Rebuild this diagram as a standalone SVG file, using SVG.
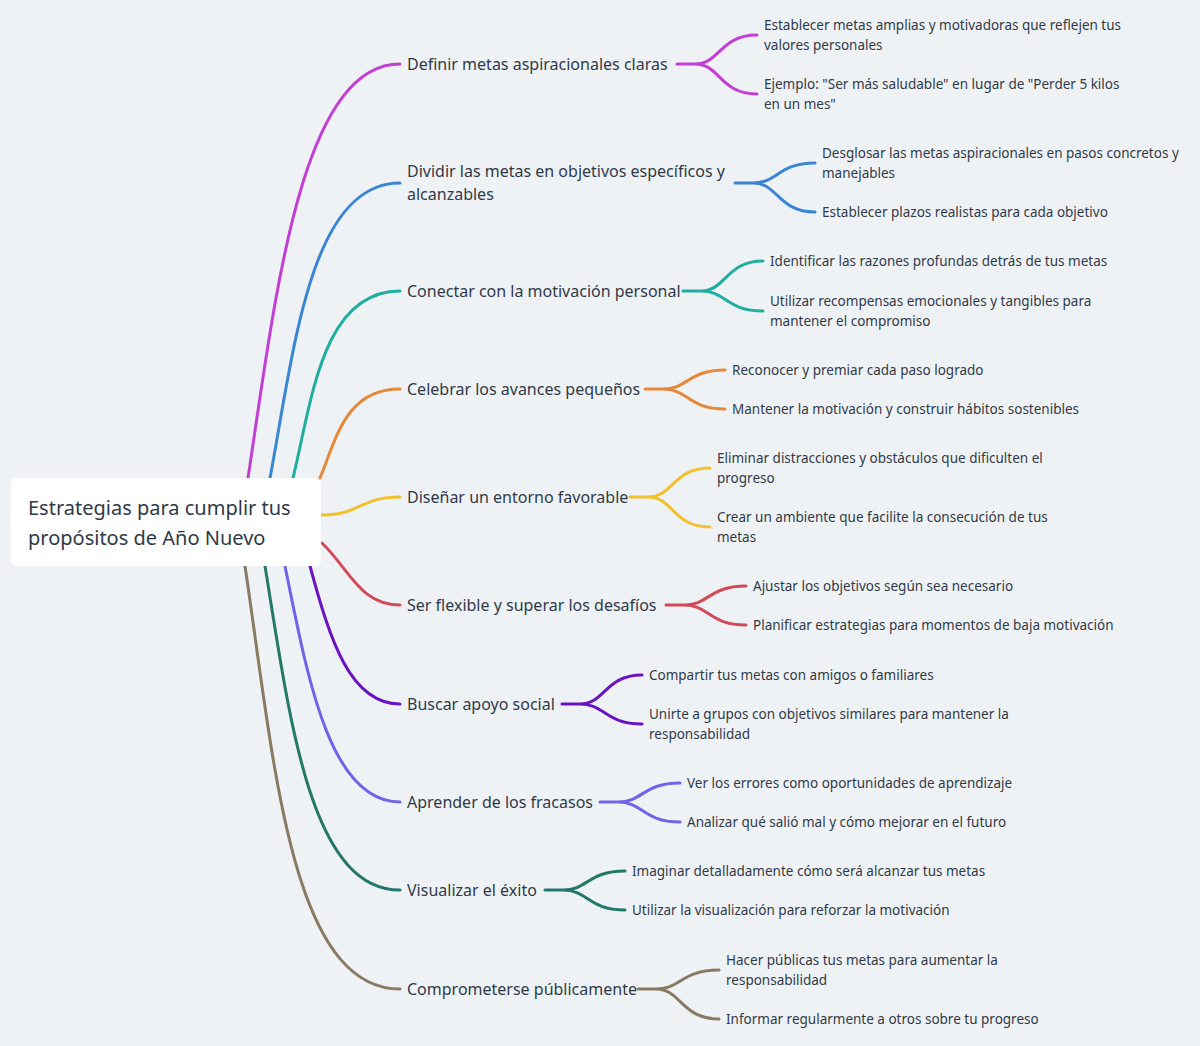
<svg xmlns="http://www.w3.org/2000/svg" width="1200" height="1046" viewBox="0 0 1200 1046">
<style>
text{font-family:"Noto Sans",sans-serif;fill:#2f3a48}
.l1{font-size:16px}.l2{font-size:13.5px}.root{font-size:20px}
path{fill:none;stroke-width:3;stroke-linecap:round}
.p{stroke:#c23fd4}.b{stroke:#3a86d4}.t{stroke:#1fae9f}.o{stroke:#e6883a}.y{stroke:#f2c12e}.r{stroke:#d24a5a}.i{stroke:#6a14c0}.v{stroke:#7063e8}.g{stroke:#24786a}.w{stroke:#8a7a63}
</style>
<rect width="1200" height="1046" fill="#eff2f5"/>
<g id="connectors">
<path class="p" d="M248 478 C275 300 300 64 400 64"/>
<path class="b" d="M270 478 C294 350 310 183 400 183"/>
<path class="t" d="M293 478 C312 400 322 291 400 291"/>
<path class="o" d="M320 478 C336 440 345 389 400 389"/>
<path class="y" d="M322 515 C360 515 360 497 400 497"/>
<path class="r" d="M322 543 C350 570 360 605 400 605"/>
<path class="i" d="M310 566 C330 640 350 704 400 704"/>
<path class="v" d="M285 566 C308 680 330 802 400 802"/>
<path class="g" d="M265 566 C290 720 310 890 400 890"/>
<path class="w" d="M245 566 C274 760 290 989 400 989"/>

<path class="p" d="M677 64 H695 C720 64 720 35 757 35 M695 64 C720 64 720 94 757 94"/>
<path class="b" d="M735 183 H753 C778 183 778 163 815 163 M753 183 C778 183 778 212 815 212"/>
<path class="t" d="M683 291 H701 C726 291 726 261 763 261 M701 291 C726 291 726 311 763 311"/>
<path class="o" d="M645 389 H663 C688 389 688 370 725 370 M663 389 C688 389 688 409 725 409"/>
<path class="y" d="M630 497 H648 C673 497 673 468 710 468 M648 497 C673 497 673 527 710 527"/>
<path class="r" d="M666 605 H684 C709 605 709 586 746 586 M684 605 C709 605 709 625 746 625"/>
<path class="i" d="M562 704 H580 C605 704 605 675 642 675 M580 704 C605 704 605 724 642 724"/>
<path class="v" d="M600 802 H618 C643 802 643 783 680 783 M618 802 C643 802 643 822 680 822"/>
<path class="g" d="M545 890 H563 C588 890 588 871 625 871 M563 890 C588 890 588 910 625 910"/>
<path class="w" d="M638 989 H656 C681 989 681 970 719 970 M656 989 C681 989 681 1019 719 1019"/>
</g>
<g id="root">
<rect x="11" y="478" width="310" height="88" rx="6" fill="#fff"/>
<text class="root" x="28" y="515">Estrategias para cumplir tus</text>
<text class="root" x="28" y="545">propósitos de Año Nuevo</text>
</g>
<g id="n1"><text class="l1" x="407" y="70">Definir metas aspiracionales claras</text>
<text class="l2" x="764" y="30">Establecer metas amplias y motivadoras que reflejen tus</text><text class="l2" x="764" y="50">valores personales</text>
<text class="l2" x="764" y="89">Ejemplo: "Ser más saludable" en lugar de "Perder 5 kilos</text><text class="l2" x="764" y="109">en un mes"</text></g>
<g id="n2"><text class="l1" x="407" y="177">Dividir las metas en objetivos específicos y</text><text class="l1" x="407" y="200">alcanzables</text>
<text class="l2" x="822" y="158">Desglosar las metas aspiracionales en pasos concretos y</text><text class="l2" x="822" y="178">manejables</text>
<text class="l2" x="822" y="217">Establecer plazos realistas para cada objetivo</text></g>
<g id="n3"><text class="l1" x="407" y="297">Conectar con la motivación personal</text>
<text class="l2" x="770" y="266">Identificar las razones profundas detrás de tus metas</text>
<text class="l2" x="770" y="306">Utilizar recompensas emocionales y tangibles para</text><text class="l2" x="770" y="326">mantener el compromiso</text></g>
<g id="n4"><text class="l1" x="407" y="395">Celebrar los avances pequeños</text>
<text class="l2" x="732" y="375">Reconocer y premiar cada paso logrado</text>
<text class="l2" x="732" y="414">Mantener la motivación y construir hábitos sostenibles</text></g>
<g id="n5"><text class="l1" x="407" y="503">Diseñar un entorno favorable</text>
<text class="l2" x="717" y="463">Eliminar distracciones y obstáculos que dificulten el</text><text class="l2" x="717" y="483">progreso</text>
<text class="l2" x="717" y="522">Crear un ambiente que facilite la consecución de tus</text><text class="l2" x="717" y="542">metas</text></g>
<g id="n6"><text class="l1" x="407" y="611">Ser flexible y superar los desafíos</text>
<text class="l2" x="753" y="591">Ajustar los objetivos según sea necesario</text>
<text class="l2" x="753" y="630">Planificar estrategias para momentos de baja motivación</text></g>
<g id="n7"><text class="l1" x="407" y="710">Buscar apoyo social</text>
<text class="l2" x="649" y="680">Compartir tus metas con amigos o familiares</text>
<text class="l2" x="649" y="719">Unirte a grupos con objetivos similares para mantener la</text><text class="l2" x="649" y="739">responsabilidad</text></g>
<g id="n8"><text class="l1" x="407" y="808">Aprender de los fracasos</text>
<text class="l2" x="687" y="788">Ver los errores como oportunidades de aprendizaje</text>
<text class="l2" x="687" y="827">Analizar qué salió mal y cómo mejorar en el futuro</text></g>
<g id="n9"><text class="l1" x="407" y="896">Visualizar el éxito</text>
<text class="l2" x="632" y="876">Imaginar detalladamente cómo será alcanzar tus metas</text>
<text class="l2" x="632" y="915">Utilizar la visualización para reforzar la motivación</text></g>
<g id="n10"><text class="l1" x="407" y="995">Comprometerse públicamente</text>
<text class="l2" x="726" y="965">Hacer públicas tus metas para aumentar la</text><text class="l2" x="726" y="985">responsabilidad</text>
<text class="l2" x="726" y="1024">Informar regularmente a otros sobre tu progreso</text></g>
</svg>
